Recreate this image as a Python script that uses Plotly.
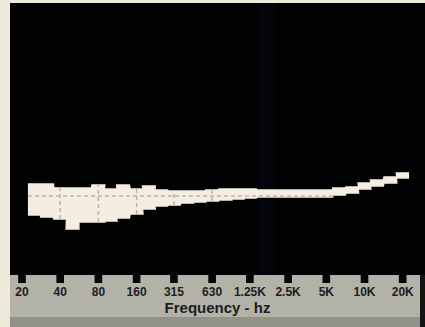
import plotly.graph_objects as go

# 1/3-octave band centres (Hz) and the upper / lower edges of the lit trace (dB)
bands = [25, 31.5, 40, 50, 63, 80, 100, 125, 160, 200, 250, 315, 400, 500, 630,
         800, 1000, 1250, 1600, 2000, 2500, 3150, 4000, 5000, 6300, 8000,
         10000, 12500, 16000, 20000]
upper_db = [2.4, 2.4, 1.6, 1.6, 1.6, 2.2, 1.4, 2.2, 1.4, 2.0, 1.2, 1.0, 1.0, 1.0, 1.2,
            1.4, 1.4, 1.4, 1.2, 1.2, 1.2, 1.2, 1.2, 1.2, 1.6, 1.8, 2.6, 3.2, 3.8, 4.6]
lower_db = [-3.8, -4.2, -4.6, -6.6, -5.2, -5.2, -5.0, -4.4, -3.6, -2.6, -2.0, -1.8, -1.4,
            -1.2, -1.0, -0.8, -0.6, -0.4, -0.2, -0.2, -0.2, -0.2, -0.2, -0.2, 0.2, 0.6,
            1.4, 2.0, 2.6, 3.6]

tick_freqs = [20, 40, 80, 160, 315, 630, 1250, 2500, 5000, 10000, 20000]
tick_text = ["20", "40", "80", "160", "315", "630", "1.25K", "2.5K", "5K", "10K", "20K"]

band_col = "#f3eee1"
grid_col = "#bdb4a3"

# step outline: each band is flat across its 1/3-octave width
xs, ups, lows = [], [], []
for f, u, l in zip(bands, upper_db, lower_db):
    lo, hi = f * 2 ** (-1 / 6), f * 2 ** (1 / 6)
    xs += [lo, hi]
    ups += [u, u]
    lows += [l, l]

fig = go.Figure()
fig.add_trace(go.Scatter(x=xs, y=lows, mode="lines",
                         line=dict(color=band_col, width=1.5), hoverinfo="skip"))
fig.add_trace(go.Scatter(x=xs, y=ups, mode="lines", fill="tonexty",
                         fillcolor=band_col, line=dict(color=band_col, width=1.5),
                         hoverinfo="skip"))

# graticule only shows where the trace is lit
zero_span = [f for f, l, u in zip(bands, lower_db, upper_db) if l < 0 < u]
fig.add_trace(go.Scatter(x=[zero_span[0] * 2 ** (-1 / 6), zero_span[-1] * 2 ** (1 / 6)],
                         y=[0, 0], mode="lines",
                         line=dict(color=grid_col, width=1.5, dash="4px,3px"),
                         hoverinfo="skip"))
for t in tick_freqs[1:6]:
    i = min(range(len(bands)), key=lambda k: abs(bands[k] / t - 1))
    fig.add_trace(go.Scatter(x=[t, t], y=[lower_db[i], upper_db[i]], mode="lines",
                             line=dict(color=grid_col, width=1.5, dash="4px,3px"),
                             hoverinfo="skip"))

# scale strip under the screen
strip_bottom = -52 / 272
fig.add_shape(type="rect", xref="paper", yref="paper", x0=0, x1=410 / 415,
              y0=strip_bottom, y1=0, fillcolor="#b3b2a9", line_width=0, layer="below")
fig.add_shape(type="rect", xref="paper", yref="paper", x0=0, x1=410 / 415,
              y0=strip_bottom, y1=-42 / 272, fillcolor="#92918a", line_width=0, layer="below")
fig.add_shape(type="rect", xref="paper", yref="paper", x0=410 / 415, x1=1,
              y0=strip_bottom, y1=0, fillcolor="#141414", line_width=0, layer="below")
fig.add_shape(type="rect", xref="paper", yref="paper", x0=248 / 415, x1=266 / 415,
              y0=0, y1=1, fillcolor="#04050c", line_width=0, layer="below")
# black tabs hanging from the screen at each tick
for t in tick_freqs:
    fig.add_shape(type="rect", xref="x", yref="paper",
                  x0=t * 2 ** (-0.1), x1=t * 2 ** 0.1, y0=-8 / 272, y1=0.01,
                  fillcolor="#050505", line_width=0, layer="above")

fig.update_layout(
    width=425, height=327,
    margin=dict(l=10, r=0, t=3, b=52),
    paper_bgcolor="#ecebdb",
    plot_bgcolor="#020202",
    showlegend=False,
    font=dict(family="Liberation Sans", color="#1d1d1b"),
)
fig.update_xaxes(
    type="log", range=[1.2065, 4.4767],
    tickvals=tick_freqs, ticktext=tick_text,
    ticks="outside", ticklen=6, tickcolor="rgba(0,0,0,0)",
    tickfont=dict(size=12, family="Liberation Sans", color="#1d1d1b", weight="bold"),
    showgrid=False, zeroline=False, showline=False,
    title=dict(text="Frequency - hz", standoff=0,
               font=dict(size=15, family="Liberation Sans", color="#1d1d1b", weight="bold")),
)
fig.update_yaxes(range=[-15.8, 38.6], showticklabels=False, showgrid=False,
                 zeroline=False, showline=False)

fig.write_html("out.html", config={"displayModeBar": False},
               post_script="document.body.style.margin='0';")
